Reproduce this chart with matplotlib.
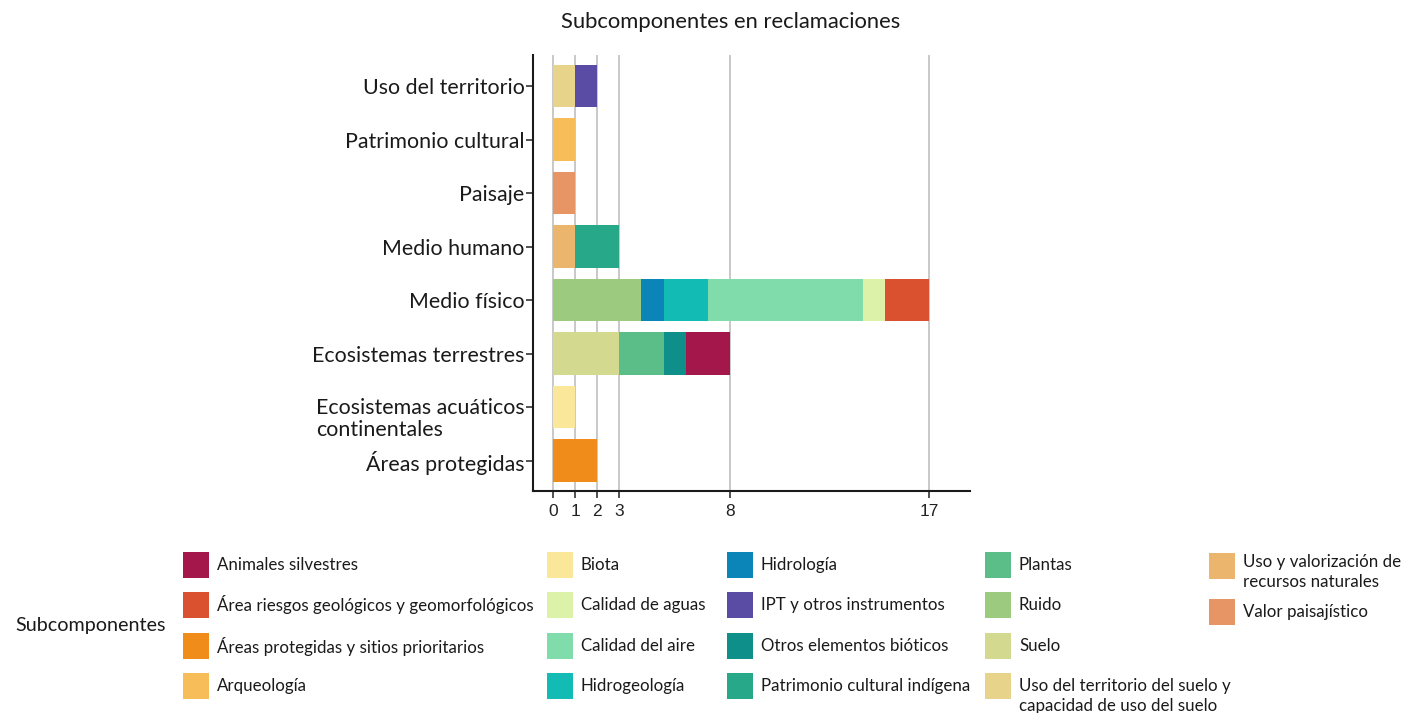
import matplotlib
matplotlib.use("Agg")
import matplotlib.pyplot as plt
import matplotlib.transforms as mtransforms
from matplotlib.patches import Rectangle
import numpy as np

plt.rcParams['font.family'] = ['Lato', 'DejaVu Sans']

title = "Subcomponentes en reclamaciones"
legend_title = "Subcomponentes"

categories = ["Uso del territorio", "Patrimonio cultural", "Paisaje", "Medio humano",
              "Medio físico", "Ecosistemas terrestres",
              "Ecosistemas acuáticos\ncontinentales", "Áreas protegidas"]

subcomponents = ["Animales silvestres", "Área riesgos geológicos y geomorfológicos",
                 "Áreas protegidas y sitios prioritarios", "Arqueología",
                 "Biota", "Calidad de aguas", "Calidad del aire", "Hidrogeología",
                 "Hidrología", "IPT y otros instrumentos", "Otros elementos bióticos",
                 "Patrimonio cultural indígena", "Plantas", "Ruido", "Suelo",
                 "Uso del territorio del suelo y\ncapacidad de uso del suelo",
                 "Uso y valorización de\nrecursos naturales", "Valor paisajístico"]

colors = ["#a3174a", "#d9512f", "#ef8c1a", "#f7bd59",
          "#fbe79a", "#dbf2a8", "#80dcaa", "#12bcb5",
          "#0b84b8", "#5a4ba5", "#0f8f8a", "#27a888",
          "#5bbd87", "#9ccb80", "#d3da8f", "#e8d38b",
          "#ebb56e", "#e89565"]

# counts per subcomponent, aligned with categories
counts = [
    [0, 0, 0, 0, 0, 2, 0, 0],  # Animales silvestres
    [0, 0, 0, 0, 2, 0, 0, 0],  # Área riesgos
    [0, 0, 0, 0, 0, 0, 0, 2],  # Áreas protegidas
    [0, 1, 0, 0, 0, 0, 0, 0],  # Arqueología
    [0, 0, 0, 0, 0, 0, 1, 0],  # Biota
    [0, 0, 0, 0, 1, 0, 0, 0],  # Calidad de aguas
    [0, 0, 0, 0, 7, 0, 0, 0],  # Calidad del aire
    [0, 0, 0, 0, 2, 0, 0, 0],  # Hidrogeología
    [0, 0, 0, 0, 1, 0, 0, 0],  # Hidrología
    [1, 0, 0, 0, 0, 0, 0, 0],  # IPT
    [0, 0, 0, 0, 0, 1, 0, 0],  # Otros elementos bióticos
    [0, 0, 0, 2, 0, 0, 0, 0],  # Patrimonio cultural indígena
    [0, 0, 0, 0, 0, 2, 0, 0],  # Plantas
    [0, 0, 0, 0, 4, 0, 0, 0],  # Ruido
    [0, 0, 0, 0, 0, 3, 0, 0],  # Suelo
    [1, 0, 0, 0, 0, 0, 0, 0],  # Uso del territorio del suelo
    [0, 0, 0, 1, 0, 0, 0, 0],  # Uso y valorización
    [0, 0, 1, 0, 0, 0, 0, 0],  # Valor paisajístico
]

xticks = [0, 1, 2, 3, 8, 17]

W, H = 1402, 713
fig = plt.figure(figsize=(W / 100, H / 100), dpi=100)
ax = fig.add_axes([533 / W, 1 - 491 / H, (970 - 533) / W, (491 - 55) / H])

y = np.arange(len(categories))
left = np.zeros(len(categories))
for i in reversed(range(len(subcomponents))):
    vals = np.array(counts[i], dtype=float)
    ax.barh(y, vals, left=left, height=0.79, color=colors[i], zorder=3, linewidth=0)
    left += vals

ax.set_ylim(7.57, -0.58)
ax.set_xlim(-0.9, 18.85)
ax.set_xticks(xticks)
ax.set_xticklabels([str(t) for t in xticks], fontfamily='Liberation Sans', fontsize=12.5, color='#222222')
ax.set_yticks(y)
# multi-line labels are drawn separately so that the first line sits on the tick
ax.set_yticklabels(["" if "\n" in c else c for c in categories], fontsize=15.4, color='#1a1a1a')
for yi, c in zip(y, categories):
    if "\n" in c:
        tr = ax.get_yaxis_transform() + mtransforms.ScaledTranslation(-8.3 / 100, -12 / 100, fig.dpi_scale_trans)
        ax.text(0, yi, c, transform=tr, ha='right', va='center', multialignment='left',
                fontsize=15.4, color='#1a1a1a', linespacing=1.12, clip_on=False)

ax.grid(axis='x', color='#c4c4c4', linewidth=1.3, zorder=0)
ax.grid(axis='y', visible=False)
for s in ['top', 'right']:
    ax.spines[s].set_visible(False)
for s in ['left', 'bottom']:
    ax.spines[s].set_color('#1a1a1a')
    ax.spines[s].set_linewidth(1.5)
ax.tick_params(axis='y', length=5, width=1.2, color='#333333', pad=1)
ax.tick_params(axis='x', length=5, width=1.2, color='#333333', pad=4)

fig.text(731 / W, 1 - 22 / H, title, ha='center', va='center', fontsize=15.8, color='#1a1a1a')

# legend drawn manually
fig.text(15 / W, 1 - 626 / H, legend_title, ha='left', va='center', fontsize=14.2, color='#1a1a1a')
col_x = [183, 547, 727, 985, 1209]
row_y = [565, 605, 646, 686]
sw = 26
for i, (name, col) in enumerate(zip(subcomponents, colors)):
    c, r = divmod(i, 4)
    x0 = col_x[c]
    yc = row_y[r]
    first_line = yc
    if c == 4 and r == 1:
        yc = 612
    if c == 4 and r == 0:
        yc = 566
        first_line = 562
    fig.patches.append(Rectangle((x0 / W, 1 - (yc + sw / 2) / H), sw / W, sw / H,
                                 transform=fig.transFigure, facecolor=col, edgecolor='none'))
    if "\n" in name:
        fig.text((x0 + sw + 8) / W, 1 - (first_line - 8) / H, name, ha='left', va='top',
                 fontsize=12.2, color='#1a1a1a', linespacing=1.3)
    else:
        fig.text((x0 + sw + 8) / W, 1 - yc / H, name, ha='left', va='center',
                 fontsize=12.2, color='#1a1a1a')

fig.savefig("out.png", dpi=100, facecolor='white')
